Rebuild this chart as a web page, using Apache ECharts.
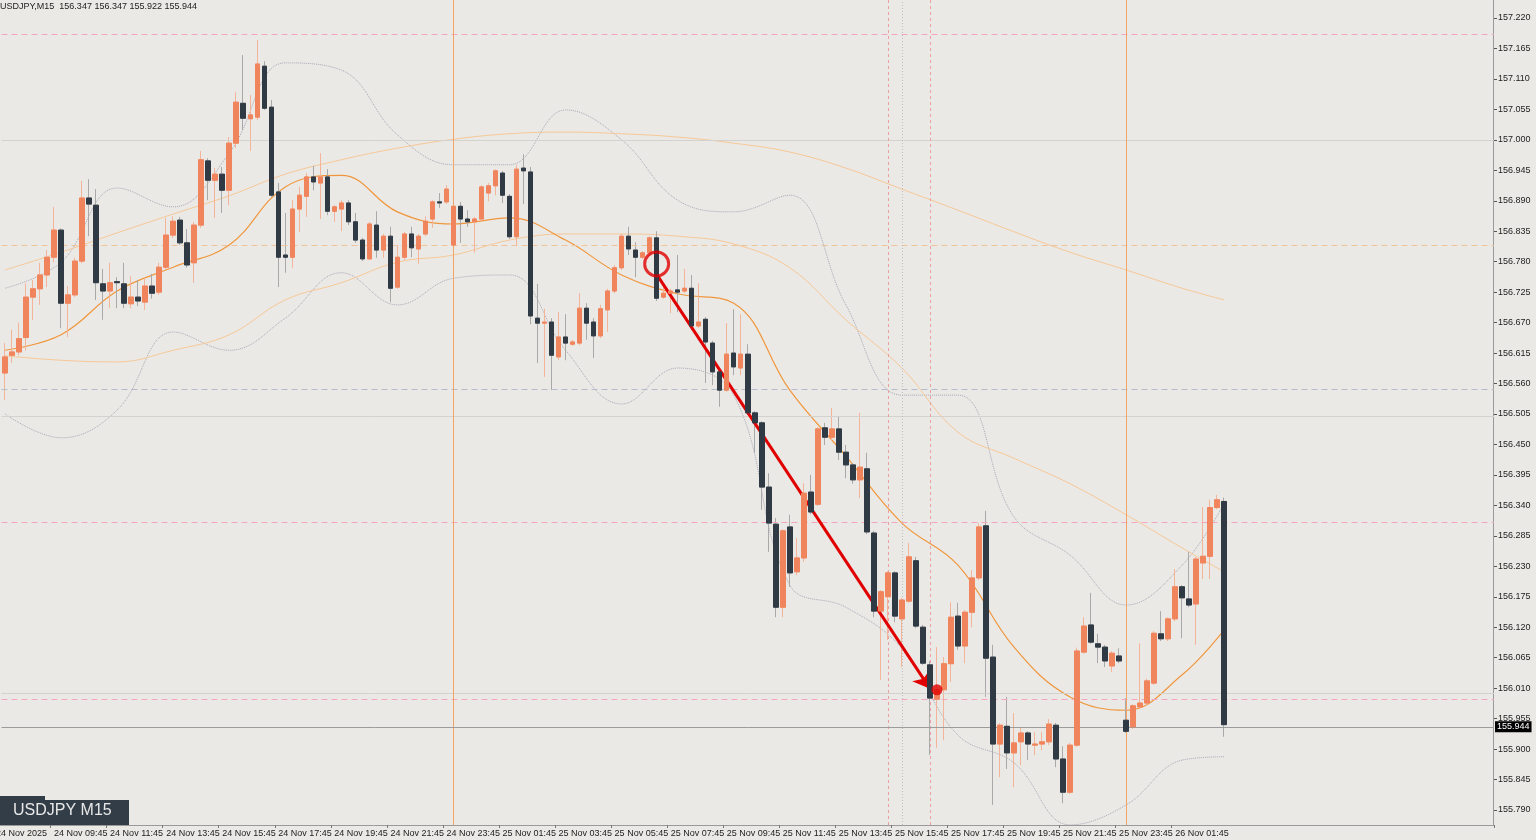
<!DOCTYPE html>
<html>
<head>
<meta charset="utf-8">
<script src="https://cdn.jsdelivr.net/npm/echarts@6/dist/echarts.min.js"></script>
<style>
  html, body { margin: 0; padding: 0; background: #ebe9e5; }
  #chart { width: 1536px; height: 840px; }
</style>
</head>
<body>
<div id="chart"></div>
<script>
// USDJPY M15, 24 Nov 08:00 -> 26 Nov 03:30, [open, close, low, high]
const candles = [
  [156.579,156.608,156.530,156.633],[156.611,156.617,156.597,156.657],[156.617,156.641,156.611,156.670],
  [156.643,156.716,156.620,156.741],[156.716,156.731,156.675,156.747],[156.731,156.756,156.702,156.778],
  [156.756,156.788,156.734,156.801],[156.788,156.837,156.779,156.879],[156.837,156.705,156.660,156.840],
  [156.705,156.720,156.644,156.736],[156.720,156.781,156.716,156.787],[156.781,156.895,156.777,156.926],
  [156.895,156.884,156.826,156.929],[156.882,156.742,156.711,156.911],[156.740,156.727,156.675,156.767],
  [156.727,156.742,156.696,156.778],[156.744,156.742,156.696,156.752],[156.740,156.705,156.696,156.778],
  [156.704,156.716,156.696,156.754],[156.716,156.709,156.700,156.747],[156.707,156.736,156.693,156.751],
  [156.736,156.723,156.713,156.758],[156.725,156.770,156.720,156.778],[156.770,156.828,156.765,156.859],
  [156.828,156.853,156.823,156.862],[156.855,156.814,156.810,156.861],[156.814,156.774,156.769,156.839],
  [156.778,156.846,156.742,156.852],[156.846,156.964,156.841,156.980],[156.962,156.927,156.891,156.967],
  [156.927,156.938,156.859,156.949],[156.938,156.909,156.868,156.951],[156.909,156.994,156.882,157.005],
  [156.994,157.068,156.985,157.086],[157.066,157.039,157.018,157.153],[157.038,157.045,156.980,157.081],
  [157.041,157.137,157.036,157.180],[157.133,157.057,157.054,157.142],[157.059,156.900,156.897,157.072],
  [156.906,156.788,156.734,156.922],[156.792,156.788,156.760,156.868],[156.788,156.875,156.769,156.891],
  [156.875,156.900,156.834,156.915],[156.898,156.933,156.861,156.940],[156.933,156.924,156.909,156.953],
  [156.922,156.933,156.857,156.976],[156.933,156.871,156.864,156.947],[156.871,156.879,156.852,156.882],
  [156.875,156.886,156.835,156.891],[156.886,156.852,156.846,156.891],[156.852,156.819,156.814,156.868],
  [156.819,156.785,156.781,156.823],[156.785,156.848,156.783,156.852],[156.846,156.801,156.787,156.871],
  [156.801,156.826,156.787,156.830],[156.826,156.732,156.707,156.843],[156.734,156.788,156.731,156.810],
  [156.788,156.830,156.783,156.834],[156.830,156.805,156.788,156.843],[156.803,156.826,156.776,156.830],
  [156.830,156.853,156.826,156.862],[156.857,156.888,156.841,156.891],[156.888,156.886,156.877,156.904],
  [156.888,156.911,156.884,156.918],[156.810,156.880,156.806,156.884],[156.880,156.857,156.814,156.888],
  [156.857,156.852,156.843,156.873],[156.852,156.857,156.796,156.861],[156.857,156.915,156.853,156.918],
  [156.904,156.917,156.889,156.922],[156.917,156.944,156.900,156.947],[156.940,156.900,156.886,156.944],
  [156.898,156.825,156.821,156.902],[156.825,156.947,156.808,156.955],[156.949,156.944,156.884,156.974],
  [156.942,156.682,156.667,156.951],[156.678,156.669,156.597,156.740],[156.669,156.671,156.572,156.695],
  [156.671,156.611,156.548,156.678],[156.608,156.644,156.602,156.689],[156.644,156.633,156.602,156.685],
  [156.631,156.635,156.628,156.639],[156.633,156.696,156.629,156.723],[156.696,156.669,156.639,156.705],
  [156.671,156.646,156.606,156.678],[156.646,156.695,156.642,156.702],[156.693,156.727,156.653,156.731],
  [156.727,156.769,156.723,156.774],[156.769,156.826,156.765,156.830],[156.826,156.803,156.792,156.843],
  [156.801,156.788,156.752,156.815],[156.788,156.796,156.785,156.799],[156.796,156.823,156.790,156.826],
  [156.823,156.714,156.709,156.835],[156.716,156.723,156.713,156.741],[156.723,156.727,156.687,156.731],
  [156.729,156.725,156.689,156.792],[156.727,156.732,156.723,156.767],[156.732,156.664,156.660,156.756],
  [156.664,156.671,156.660,156.741],[156.676,156.635,156.561,156.680],[156.633,156.581,156.557,156.637],
  [156.581,156.548,156.518,156.584],[156.548,156.613,156.545,156.669],[156.615,156.590,156.575,156.694],
  [156.588,156.613,156.575,156.685],[156.613,156.507,156.503,156.631],[156.507,156.489,156.435,156.510],
  [156.489,156.373,156.332,156.492],[156.373,156.308,156.256,156.398],[156.306,156.156,156.138,156.317],
  [156.156,156.294,156.138,156.297],[156.301,156.218,156.193,156.323],[156.220,156.245,156.214,156.281],
  [156.245,156.362,156.238,156.380],[156.364,156.328,156.324,156.395],[156.342,156.478,156.339,156.481],
  [156.480,156.463,156.449,156.489],[156.463,156.478,156.458,156.516],[156.478,156.436,156.422,156.501],
  [156.436,156.413,156.389,156.449],[156.413,156.386,156.379,156.416],[156.386,156.409,156.353,156.507],
  [156.406,156.292,156.288,156.435],[156.290,156.149,156.138,156.294],[156.149,156.184,156.025,156.187],
  [156.175,156.218,156.097,156.221],[156.218,156.140,156.129,156.221],[156.135,156.169,156.048,156.173],
  [156.167,156.247,156.164,156.272],[156.240,156.122,156.118,156.247],[156.120,156.055,156.052,156.124],
  [156.052,155.992,155.889,156.059],[155.990,156.007,155.902,156.084],[156.007,156.054,155.916,156.066],
  [156.054,156.138,156.021,156.165],[156.140,156.086,156.079,156.164],[156.086,156.147,156.055,156.151],
  [156.147,156.209,156.120,156.223],[156.209,156.301,156.205,156.308],[156.303,156.064,155.994,156.330],
  [156.066,155.909,155.799,156.088],[155.909,155.943,155.849,155.947],[155.941,155.893,155.864,155.994],
  [155.893,155.911,155.831,155.965],[155.913,155.929,155.871,155.938],[155.929,155.909,155.880,155.932],
  [155.907,155.909,155.889,155.931],[155.909,155.913,155.898,155.931],[155.913,155.945,155.907,155.954],
  [155.943,155.882,155.867,155.947],[155.882,155.822,155.802,155.905],[155.822,155.907,155.819,155.911],
  [155.907,156.077,155.904,156.083],[156.075,156.122,156.072,156.138],[156.124,156.093,156.090,156.182],
  [156.090,156.084,156.055,156.108],[156.084,156.059,156.048,156.088],[156.050,156.073,156.039,156.077],
  [156.068,156.059,156.055,156.082],[155.952,155.932,155.929,155.992],[155.940,155.978,155.936,155.981],
  [155.976,155.983,155.972,156.091],[155.983,156.023,155.979,156.027],[156.019,156.109,156.016,156.113],
  [156.108,156.099,156.095,156.149],[156.099,156.135,156.095,156.138],[156.135,156.193,156.131,156.225],
  [156.193,156.173,156.100,156.196],[156.171,156.160,156.156,156.256],[156.162,156.243,156.088,156.247],
  [156.236,156.248,156.207,156.337],[156.248,156.336,156.207,156.350],[156.336,156.350,156.333,156.359],
  [156.347,155.944,155.922,156.354]
];

// indicator lines at candle indices
const indIdx   = [0,8,16,24,32,40,48,56,64,72,80,88,96,104,112,120,128,136,144,152,160,168,174];
const maFast   = [156.620,156.648,156.727,156.770,156.810,156.915,156.936,156.870,156.848,156.859,156.819,156.756,156.722,156.705,156.548,156.429,156.308,156.232,156.084,155.994,155.970,156.034,156.115];
const maMid    = [156.610,156.602,156.599,156.620,156.648,156.711,156.742,156.779,156.792,156.819,156.830,156.830,156.826,156.812,156.769,156.675,156.588,156.472,156.425,156.379,156.323,156.263,156.220];
const maSlow   = [156.765,156.797,156.832,156.866,156.899,156.938,156.964,156.985,157.001,157.011,157.014,157.011,157.005,156.994,156.978,156.949,156.911,156.873,156.834,156.797,156.765,156.732,156.711];
const bbUpper  = [156.732,156.779,156.913,156.879,156.976,157.139,157.126,157.009,156.955,156.955,157.054,157.000,156.891,156.870,156.900,156.702,156.539,156.539,156.319,156.250,156.160,156.232,156.344];
const bbLower  = [156.505,156.462,156.512,156.653,156.620,156.678,156.760,156.702,156.750,156.756,156.620,156.523,156.588,156.539,156.196,156.156,156.082,155.925,155.875,155.763,155.799,155.880,155.886];

const pinkLevels = [157.189, 156.314, 155.992];
const greyLevels = [157.000, 156.501, 156.004];
const dayBreaks = [64, 160];
const pinkVert = [126, 132];
const greyVert = [128];
const lastPrice = 155.944;
// time labels every 8 bars from 24 Nov 09:45 to 26 Nov 01:45
const labelIdx = [7, 15, 23, 31, 39, 47, 55, 63, 71, 79, 87, 95, 103, 111, 119, 127, 135, 143, 151, 159, 167];
const firstLabel = '24 Nov 2025';

const SLOTS = 213;
const months = ['Jan','Feb','Mar','Apr','May','Jun','Jul','Aug','Sep','Oct','Nov','Dec'];
const pad = n => String(n).padStart(2, '0');
const times = [];
for (let i = 0; i < SLOTS; i++) {
  const d = new Date(Date.UTC(2025, 10, 24, 8, 0) + i * 15 * 60000);
  times.push(d.getUTCDate() + ' ' + months[d.getUTCMonth()] + ' ' + pad(d.getUTCHours()) + ':' + pad(d.getUTCMinutes()));
}

const sparse = vals => {
  const a = new Array(175).fill(null);
  indIdx.forEach((ix, k) => { a[ix] = vals[k]; });
  return a;
};
const bodies = candles.map(c => [c[0], c[1], Math.min(c[0], c[1]), Math.max(c[0], c[1])]);

const chart = echarts.init(document.getElementById('chart'));
const font = 'Liberation Sans';

const line = (name, vals, color, type, width) => ({
  name, type: 'line', data: sparse(vals), connectNulls: true, smooth: 0.4, symbol: 'none',
  lineStyle: { color, width, type }, silent: true, z: 3
});

chart.setOption({
  backgroundColor: '#ebe9e5',
  animation: false,
  textStyle: { fontFamily: font },
  grid: [
    { left: 1.5, right: 42, top: 0, bottom: 15 },
    { left: 1.5, right: 42, top: 0, bottom: 30 }
  ],
  xAxis: [
    {
      type: 'category', data: times, gridIndex: 0, boundaryGap: true,
      axisLine: { show: false },
      axisTick: { show: true, customValues: labelIdx, length: 3, lineStyle: { color: '#777' } },
      axisLabel: {
        customValues: labelIdx, align: 'left', color: '#222', fontSize: 9, margin: 4,
        hideOverlap: false
      },
      splitLine: { show: false }
    },
    { type: 'category', data: times, gridIndex: 1, show: false }
  ],
  yAxis: [
    { type: 'value', gridIndex: 0, min: 155.7628, max: 157.2525, show: false, splitLine: { show: false } },
    {
      type: 'value', gridIndex: 1, position: 'right', min: 155.790, max: 157.2525, interval: 0.055,
      axisLine: { show: false },
      axisTick: { show: true, length: 3, lineStyle: { color: '#555' } },
      axisLabel: { color: '#222', fontSize: 9, margin: 4, showMaxLabel: false,
        formatter: v => v.toFixed(3) },
      splitLine: { show: false }
    }
  ],
  graphic: [
    { type: 'line', shape: { x1: 1493.5, y1: 0, x2: 1493.5, y2: 825 }, style: { stroke: '#9a9a9a', lineWidth: 1 } },
    { type: 'line', shape: { x1: 0, y1: 825.5, x2: 1494, y2: 825.5 }, style: { stroke: '#9a9a9a', lineWidth: 1 } },
    { type: 'text', x: -4, y: 829, style: { text: firstLabel, fill: '#222', font: '9px ' + font } },
    { type: 'text', left: 0, top: 2, style: { text: 'USDJPY,M15  156.347 156.347 155.922 155.944', fill: '#222', font: '9px ' + font } },
    { type: 'rect', shape: { x: 0, y: 796, width: 45, height: 5 }, style: { fill: '#333d47' } },
    { type: 'rect', shape: { x: 0, y: 800, width: 129, height: 25 }, style: { fill: '#333d47' } },
    { type: 'text', x: 13, y: 803, style: { text: 'USDJPY M15', fill: '#e8e8e8', font: '16px ' + font } }
  ],
  series: [
    {
      name: 'levels', type: 'line', data: [], silent: true,
      markLine: {
        symbol: 'none', silent: true, label: { show: false },
        data: [
          ...pinkLevels.map(v => ({ yAxis: v, lineStyle: { color: '#f2a6c0', type: [6, 4], width: 1 } })),
          ...greyLevels.map(v => ({ yAxis: v, lineStyle: { color: '#d4d2ce', type: 'solid', width: 1 } })),
          { yAxis: 156.810, lineStyle: { color: '#f0c49a', type: [6, 4], width: 1 } },
          { yAxis: 156.546, lineStyle: { color: '#b4bccb', type: [6, 4], width: 1 } },
          ...dayBreaks.map(i => ({ xAxis: i, lineStyle: { color: '#f2a566', type: 'solid', width: 1 } })),
          ...pinkVert.map(i => ({ xAxis: i, lineStyle: { color: '#e8a0a0', type: [3, 3], width: 1 } })),
          ...greyVert.map(i => ({ xAxis: i, lineStyle: { color: '#bdbdbd', type: [1, 2], width: 1 } })),
          { yAxis: lastPrice, lineStyle: { color: '#9c9c9c', type: 'solid', width: 1 },
            label: { show: true, position: 'end', formatter: lastPrice.toFixed(3), color: '#fff',
              backgroundColor: '#000', padding: [1, 2], fontSize: 9, distance: 1 } }
        ]
      }
    },
    line('BB upper', bbUpper, '#a8a6b8', 'dotted', 1),
    line('BB lower', bbLower, '#a8a6b8', 'dotted', 1),
    line('MA slow', maSlow, '#f6c898', 'solid', 1),
    line('MA mid', maMid, '#f6c898', 'solid', 1),
    line('MA fast', maFast, '#f0973e', 'solid', 1.2),
    {
      name: 'wicks', type: 'candlestick', data: candles, barWidth: 5, z: 4,
      itemStyle: { color: '#f3b49a', color0: '#a9a9a9', borderColor: '#f3b49a', borderColor0: '#a9a9a9', borderWidth: 1 }
    },
    {
      name: 'bodies', type: 'candlestick', data: bodies, barWidth: 5, z: 5,
      itemStyle: { color: '#f0845c', color0: '#2f3a45', borderColor: '#f0845c', borderColor0: '#2f3a45', borderWidth: 1 },
      markLine: {
        symbol: ['none', 'arrow'], symbolSize: 16, silent: true, label: { show: false },
        lineStyle: { color: '#e00000', width: 3, type: 'solid' },
        data: [[{ coord: [93, 156.757] }, { coord: [132, 156.009] }]]
      }
    },
    {
      name: 'marks', type: 'scatter', z: 6, silent: true,
      data: [
        { value: [93, 156.776], symbolSize: 24, itemStyle: { color: 'rgba(0,0,0,0)', borderColor: '#e00000', borderWidth: 3 } },
        { value: [133, 156.007], symbolSize: 11, itemStyle: { color: '#e00000' } }
      ]
    }
  ]
});
</script>
</body>
</html>
